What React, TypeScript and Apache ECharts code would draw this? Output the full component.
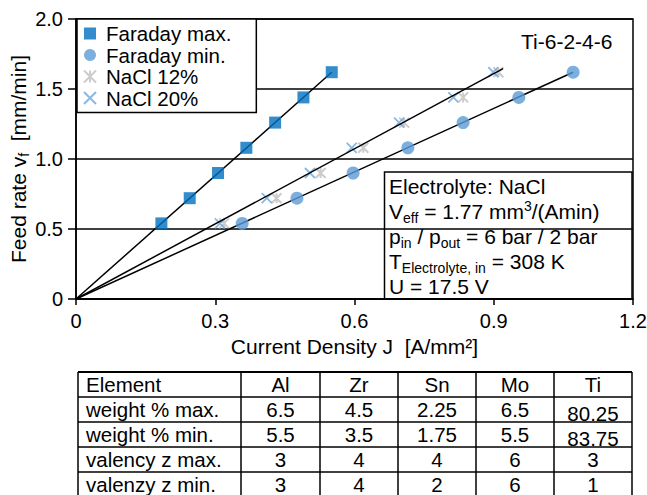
import React, { useEffect, useRef } from 'react';
import * as echarts from 'echarts';

// ---- chart data ----
const feedRate = [0.54, 0.72, 0.9, 1.08, 1.26, 1.44, 1.62];
const jFaradayMax = [0.184, 0.245, 0.306, 0.367, 0.429, 0.49, 0.551];
const jFaradayMin = [0.358, 0.476, 0.597, 0.715, 0.834, 0.954, 1.071];
const jNaCl12 = [0.319, 0.432, 0.527, 0.619, 0.707, 0.834, 0.91];
const jNaCl20 = [0.31, 0.411, 0.504, 0.594, 0.696, 0.813, 0.899];

const trendMax = [[0, 0], [0.551, 1.62]];
const trendNaCl = [[0, 0], [0.92, 1.645]];
const trendMin = [[0, 0], [1.071, 1.62]];

const xTickLabels = ['0', '0.3', '0.6', '0.9', '1.2'];
const yTickLabels = ['0', '0.5', '1.0', '1.5', '2.0'];

const seriesNames = ['Faraday max.', 'Faraday min.', 'NaCl 12%', 'NaCl 20%'];

// ---- table data ----
const tableHeader = ['Element', 'Al', 'Zr', 'Sn', 'Mo', 'Ti'];
const weightMax = ['weight % max.', '6.5', '4.5', '2.25', '6.5', '80.25'];
const weightMin = ['weight % min.', '5.5', '3.5', '1.75', '5.5', '83.75'];
const valencyMax = ['valency z max.', '3', '4', '4', '6', '3'];
const valencyMin = ['valenzy z min.', '3', '4', '2', '6', '1'];

const FONT = '"Liberation Sans", Arial, Helvetica, sans-serif';

const pair = (xs: number[], ys: number[]) => xs.map((x, i) => [x, ys[i]]);

function buildTable(): any[] {
  const rows = [tableHeader, weightMax, weightMin, valencyMax, valencyMin];
  const colX = [78, 241, 320, 398, 476, 554, 632];
  const top = 372;
  const rh = 25;
  const els: any[] = [];
  for (let r = 0; r <= rows.length; r++) {
    els.push({
      type: 'line',
      shape: { x1: colX[0], y1: top + r * rh, x2: colX[colX.length - 1], y2: top + r * rh },
      style: { stroke: '#000', lineWidth: r === 0 ? 2 : 1.5 },
    });
  }
  colX.forEach((x) => {
    els.push({
      type: 'line',
      shape: { x1: x, y1: top, x2: x, y2: top + rows.length * rh },
      style: { stroke: '#000', lineWidth: 1.5 },
    });
  });
  rows.forEach((row, r) => {
    row.forEach((txt, c) => {
      const isFirst = c === 0;
      const shiftDown = c === 5 && (r === 1 || r === 2) ? 4 : 0;
      els.push({
        type: 'text',
        x: isFirst ? colX[0] + 8 : (colX[c] + colX[c + 1]) / 2,
        y: top + r * rh + rh / 2 + shiftDown,
        style: {
          text: txt,
          fontSize: 20.5,
          fontFamily: FONT,
          fill: '#000',
          align: isFirst ? 'left' : 'center',
          verticalAlign: 'middle',
        },
      });
    });
  });
  return els;
}

const subRich = {
  a: { fontSize: 21, lineHeight: 26, verticalAlign: 'middle', fill: '#000', color: '#000', fontFamily: FONT },
  s: { fontSize: 14, lineHeight: 14, verticalAlign: 'bottom', fill: '#000', color: '#000', fontFamily: FONT },
  p: { fontSize: 14, lineHeight: 14, verticalAlign: 'top', fill: '#000', color: '#000', fontFamily: FONT },
};

function buildAnnotation(): any[] {
  const lines = [
    '{a|Electrolyte: NaCl}',
    '{a|V}{s|eff}{a| = 1.77 mm}{p|3}{a|/(Amin)}',
    '{a|p}{s|in}{a| / p}{s|out}{a| = 6 bar / 2 bar}',
    '{a|T}{s|Electrolyte, in}{a| = 308 K}',
    '{a|U = 17.5 V}',
  ];
  const els: any[] = [
    {
      type: 'rect',
      shape: { x: 384.5, y: 172, width: 247.5, height: 127 },
      style: { fill: '#fff', stroke: '#000', lineWidth: 1.5 },
    },
  ];
  lines.forEach((t, i) => {
    els.push({
      type: 'text',
      x: 389,
      y: 186.7 + i * 25,
      style: {
        text: t,
        rich: subRich,
        fontFamily: FONT,
        fill: '#000',
        align: 'left',
        verticalAlign: 'middle',
      },
    });
  });
  return els;
}

export default function App() {
  const ref = useRef<HTMLDivElement>(null);

  useEffect(() => {
    if (!ref.current) return;
    const chart = echarts.init(ref.current, undefined, { renderer: 'svg' });
    const axisLineStyle = { color: '#000', width: 1.5 };
    const option: any = {
      animation: false,
      backgroundColor: '#fff',
      textStyle: { fontFamily: FONT, color: '#000' },
      grid: {
        left: 76,
        right: 14,
        top: 19,
        bottom: 196,
        containLabel: false,
        outerBoundsMode: 'none',
        show: true,
        borderColor: '#000',
        borderWidth: 1.5,
        backgroundColor: 'transparent',
      },
      legend: {
        data: seriesNames,
        orient: 'vertical',
        left: 77,
        top: 19,
        padding: [4, 25, 4, 6],
        itemGap: 0.5,
        itemWidth: 12,
        itemHeight: 12,
        backgroundColor: '#fff',
        borderColor: '#000',
        borderWidth: 1.5,
        borderRadius: 0,
        textStyle: { fontSize: 20.5, lineHeight: 20, padding: [0, 0, 0, 5], color: '#000', fontFamily: FONT },
        z: 10,
      },
      xAxis: {
        type: 'value',
        min: 0,
        max: 1.2,
        interval: 0.3,
        axisLine: { show: true, onZero: false, lineStyle: axisLineStyle },
        axisTick: { show: true, length: 6, lineStyle: axisLineStyle },
        axisLabel: {
          margin: 12,
          fontSize: 20,
          color: '#000',
          fontFamily: FONT,
          formatter: (v: number) => xTickLabels[Math.round(v / 0.3)] ?? '',
        },
        splitLine: { show: false },
        name: 'Current Density J  [A/mm²]',
        nameLocation: 'middle',
        nameGap: 35,
        nameMoveOverlap: false,
        nameTextStyle: { fontSize: 21, lineHeight: 24, color: '#000', fontFamily: FONT },
      },
      yAxis: {
        type: 'value',
        min: 0,
        max: 2,
        interval: 0.5,
        axisLine: { show: true, onZero: false, lineStyle: axisLineStyle },
        axisTick: { show: true, length: 8, lineStyle: axisLineStyle },
        axisLabel: {
          margin: 13,
          fontSize: 20,
          color: '#000',
          fontFamily: FONT,
          formatter: (v: number) => yTickLabels[Math.round(v / 0.5)] ?? '',
        },
        splitLine: { show: true, lineStyle: { color: '#000', width: 1.5 } },
        name: '{a|Feed rate v}{s|f}{a|  [mm/min]}',
        nameLocation: 'middle',
        nameGap: 45,
        nameMoveOverlap: false,
        nameTextStyle: {
          fontSize: 21,
          color: '#000',
          fontFamily: FONT,
          rich: {
            a: { fontSize: 21, lineHeight: 26, verticalAlign: 'middle', color: '#000', fontFamily: FONT },
            s: { fontSize: 14, lineHeight: 14, verticalAlign: 'bottom', color: '#000', fontFamily: FONT },
          },
        },
      },
      series: [
        {
          name: 'trendNaCl',
          type: 'line',
          data: trendNaCl,
          symbol: 'none',
          silent: true,
          lineStyle: { color: '#000', width: 1.5 },
          z: 4,
        },
        {
          name: 'trendMax',
          type: 'line',
          data: trendMax,
          symbol: 'none',
          silent: true,
          lineStyle: { color: '#000', width: 1.5 },
          z: 4,
        },
        {
          name: 'trendMin',
          type: 'line',
          data: trendMin,
          symbol: 'none',
          silent: true,
          lineStyle: { color: '#000', width: 1.5 },
          z: 4,
        },
        {
          name: seriesNames[0],
          type: 'scatter',
          data: pair(jFaradayMax, feedRate),
          symbol: 'rect',
          symbolSize: 12,
          itemStyle: { color: '#0070c0' },
          z: 6,
        },
        {
          name: seriesNames[1],
          type: 'scatter',
          data: pair(jFaradayMin, feedRate),
          symbol: 'circle',
          symbolSize: 13,
          itemStyle: { color: '#5b9bd5' },
          z: 6,
        },
        {
          name: seriesNames[2],
          type: 'scatter',
          data: pair(jNaCl12, feedRate),
          symbol: 'path://M0,0L10,10M10,0L0,10M5,0L5,10',
          symbolSize: 10,
          itemStyle: { color: 'rgba(0,0,0,0)', borderColor: '#bfbfbf', borderWidth: 2 },
          z: 3,
        },
        {
          name: seriesNames[3],
          type: 'scatter',
          data: pair(jNaCl20, feedRate),
          symbol: 'path://M0,0L10,10M10,0L0,10',
          symbolSize: 10,
          itemStyle: { color: 'rgba(0,0,0,0)', borderColor: '#6aa6dc', borderWidth: 1.8 },
          z: 3,
        },
      ],
      graphic: [
        {
          type: 'text',
          x: 521,
          y: 41.7,
          z: 100,
          style: {
            text: 'Ti-6-2-4-6',
            fontSize: 21,
            fontFamily: FONT,
            fill: '#000',
            align: 'left',
            verticalAlign: 'middle',
          },
        },
        { type: 'group', z: 100, children: buildAnnotation() },
        { type: 'group', z: 100, children: buildTable() },
      ],
    };
    chart.setOption(option);
    return () => chart.dispose();
  }, []);

  return (
    <div
      ref={ref}
      style={{ position: 'fixed', left: 0, top: 0, width: 647, height: 495, background: '#fff' }}
    />
  );
}
